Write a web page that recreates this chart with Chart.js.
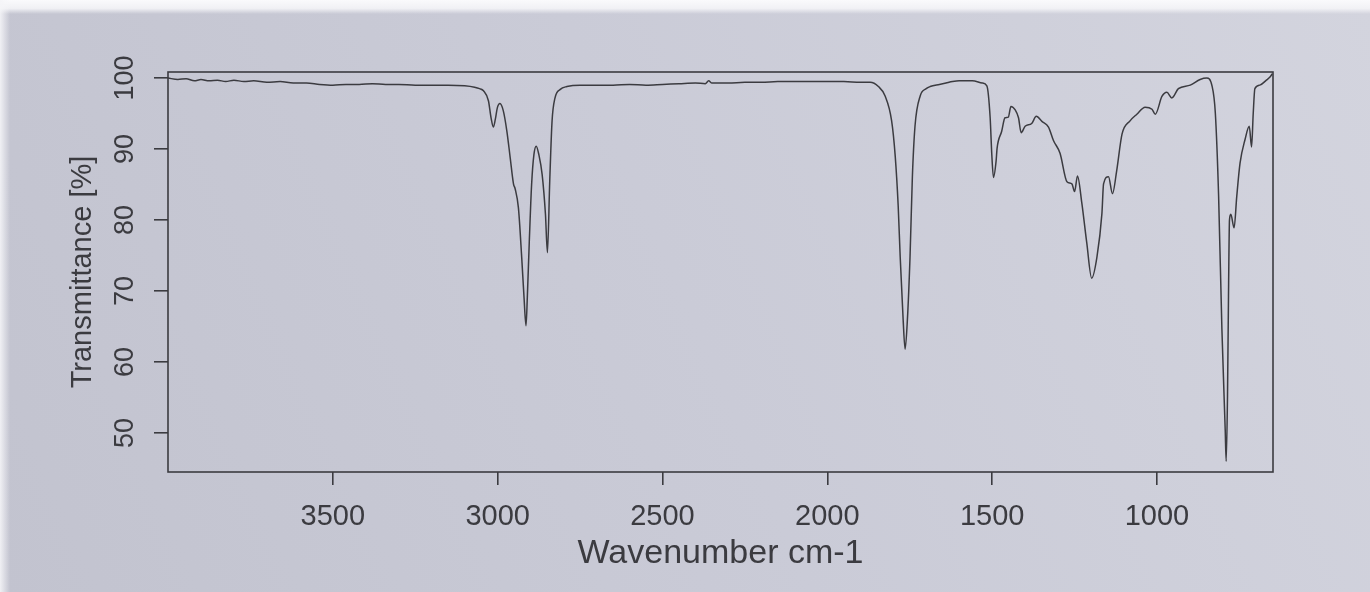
<!DOCTYPE html>
<html><head><meta charset="utf-8">
<script src="https://cdn.jsdelivr.net/npm/chart.js@4.4.0/dist/chart.umd.min.js"></script>
<style>html,body{margin:0;padding:0;background:#cccdd7;overflow:hidden;} canvas{display:block;}</style>
</head><body>
<canvas id="c" width="1370" height="592"></canvas>
<script>
const wavenumbers = [4000,3970,3945,3920,3900,3875,3850,3825,3800,3770,3740,3700,3660,3620,3580,3540,3500,3460,3420,3380,3340,3300,3250,3200,3150,3100,3070,3055,3043,3028,3020,3013,3007,3001,2993,2983,2972,2962,2952,2947,2937,2927,2920,2914,2910,2904,2897,2890,2883,2875,2865,2855,2849,2842,2835,2826,2810,2790,2750,2710,2650,2600,2550,2500,2450,2400,2370,2360,2350,2300,2250,2200,2150,2100,2050,2000,1950,1900,1870,1845,1825,1805,1794,1785,1779,1770,1764,1757,1749,1742,1734,1718,1700,1688,1660,1640,1620,1600,1560,1530,1516,1506,1501,1496,1488,1485,1471,1461,1451,1443,1430,1420,1412,1400,1380,1366,1349,1329,1314,1294,1273,1258,1250,1241,1228,1213,1198,1182,1167,1162,1147,1135,1122,1106,1081,1061,1036,1015,1005,985,970,955,935,899,869,849,833,823,813,803,793,790,786,783,780,776,766,758,748,733,720,713,708,703,688,668,658,650];
const transmittance = [100.0,99.8,99.9,99.6,99.8,99.6,99.7,99.5,99.7,99.5,99.6,99.4,99.5,99.3,99.3,99.1,99.0,99.1,99.1,99.2,99.1,99.1,99.0,99.0,99.0,98.9,98.7,98.5,98.2,96.8,94.4,93.1,94.2,95.8,96.4,95.4,92.5,88.8,85.1,84.4,81.7,74.7,69.1,65.1,69.1,77.0,85.0,89.2,90.4,89.2,86.4,80.8,75.4,85.5,93.9,97.2,98.4,98.8,99.0,99.0,99.0,99.1,99.0,99.1,99.2,99.3,99.2,99.6,99.3,99.3,99.4,99.4,99.5,99.5,99.5,99.5,99.5,99.4,99.4,98.8,97.5,94.0,89.0,82.0,74.9,66.0,61.8,66.0,74.9,86.0,93.2,97.5,98.5,98.8,99.1,99.3,99.5,99.6,99.6,99.3,98.9,94.4,89.2,86.0,88.3,90.1,92.5,94.4,94.5,96.0,95.5,94.4,92.3,93.2,93.6,94.6,93.9,93.1,91.2,89.4,85.4,85.1,84.0,86.2,82.4,76.8,71.8,74.8,80.9,85.1,86.1,83.7,87.0,92.1,94.0,94.9,95.9,95.6,94.9,97.4,98.0,97.2,98.5,99.0,99.8,100.0,98.9,95.1,83.4,64.6,50.5,46.0,55.2,69.3,80.0,80.8,78.9,83.3,88.0,91.3,93.2,90.3,95.0,98.5,99.0,99.7,100.1,100.6];
const xTicks = [3500,3000,2500,2000,1500,1000];
const yTicks = [50,60,70,80,90,100];
const xTitle = 'Wavenumber cm-1';
const yTitle = 'Transmittance [%]';

const INK = '#3b3b40';
const FONT = "'Liberation Sans', Arial, Helvetica, sans-serif";

const points = wavenumbers.map((w, i) => ({x: w, y: transmittance[i]}));

const bgPlugin = {
  id: 'bg',
  beforeDraw(chart) {
    const {ctx, width, height} = chart;
    ctx.save();
    const g = ctx.createLinearGradient(0, height, width, 0);
    g.addColorStop(0, '#c2c3cf');
    g.addColorStop(0.5, '#cacbd7');
    g.addColorStop(1, '#d3d4de');
    ctx.fillStyle = g;
    ctx.fillRect(0, 0, width, height);
    const t = ctx.createLinearGradient(0, 0, 0, 14);
    t.addColorStop(0, 'rgba(250,250,252,1)');
    t.addColorStop(0.6, 'rgba(245,245,248,0.9)');
    t.addColorStop(1, 'rgba(245,245,248,0)');
    ctx.fillStyle = t;
    ctx.fillRect(0, 0, width, 14);
    const l = ctx.createLinearGradient(0, 0, 10, 0);
    l.addColorStop(0, 'rgba(245,245,248,0.9)');
    l.addColorStop(1, 'rgba(245,245,248,0)');
    ctx.fillStyle = l;
    ctx.fillRect(0, 0, 10, height);
    ctx.restore();
  }
};

const boxPlugin = {
  id: 'box',
  afterDraw(chart) {
    const {ctx, chartArea: a, scales} = chart;
    ctx.save();
    ctx.strokeStyle = INK;
    ctx.lineWidth = 1.6;
    ctx.strokeRect(a.left, a.top, a.right - a.left, a.bottom - a.top);
    ctx.fillStyle = INK;
    ctx.font = '27px ' + FONT;
    ctx.textAlign = 'center';
    ctx.textBaseline = 'middle';
    yTicks.forEach(v => {
      const py = scales.y.getPixelForValue(v);
      ctx.save();
      ctx.translate(126, py);
      ctx.rotate(-Math.PI / 2);
      ctx.fillText(String(v), 0, 0);
      ctx.restore();
    });
    ctx.restore();
  }
};

new Chart(document.getElementById('c'), {
  type: 'line',
  data: {
    datasets: [{
      data: points,
      borderColor: INK,
      borderWidth: 1.5,
      pointRadius: 0,
      fill: false,
      cubicInterpolationMode: 'monotone'
    }]
  },
  options: {
    responsive: false,
    animation: false,
    devicePixelRatio: 1,
    layout: {padding: {left: 0, right: 97, top: 72, bottom: 0}},
    plugins: {legend: {display: false}, tooltip: {enabled: false}},
    scales: {
      x: {
        type: 'linear',
        reverse: true,
        min: 648,
        max: 4000,
        afterBuildTicks: s => { s.ticks = xTicks.map(v => ({value: v})); },
        afterFit: s => { s.height = 120; },
        grid: {display: true, drawOnChartArea: false, drawTicks: true, tickLength: 13, color: INK, lineWidth: 1.6},
        border: {display: false},
        ticks: {color: INK, font: {family: FONT, size: 29}, padding: 15, maxRotation: 0, autoSkip: false, callback: v => String(v)},
        title: {display: true, text: xTitle, color: INK, font: {family: FONT, size: 34}, padding: {top: 0, bottom: 18}}
      },
      y: {
        type: 'linear',
        min: 44.5,
        max: 100.85,
        afterBuildTicks: s => { s.ticks = yTicks.map(v => ({value: v})); },
        afterFit: s => { s.width = 168; },
        grid: {display: true, drawOnChartArea: false, drawTicks: true, tickLength: 14, color: INK, lineWidth: 1.6},
        border: {display: false},
        ticks: {display: false},
        title: {display: true, text: yTitle, color: INK, font: {family: FONT, size: 29}, padding: {top: 66, bottom: 0}}
      }
    }
  },
  plugins: [bgPlugin, boxPlugin]
});
</script>
</body></html>
